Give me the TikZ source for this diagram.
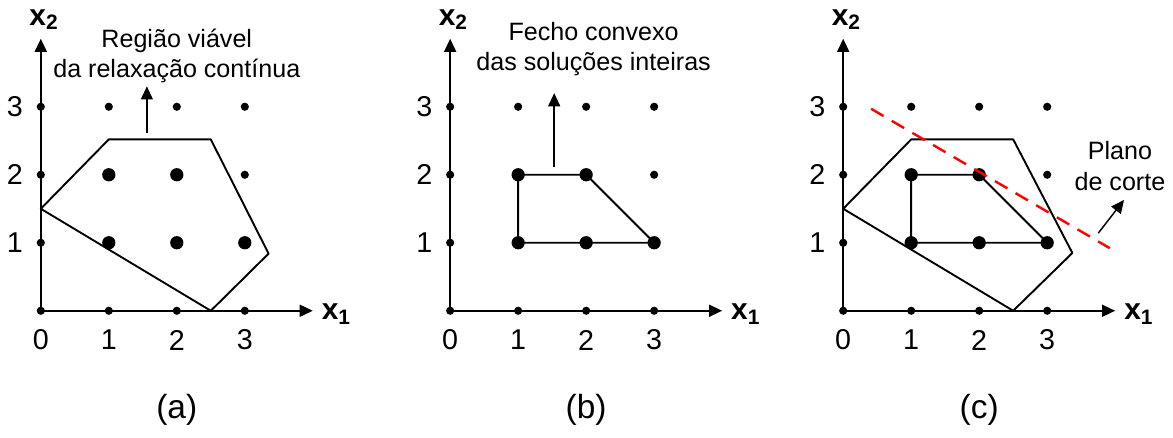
\documentclass[tikz,border=0pt]{standalone}
\usepackage{fontspec}
\setmainfont{Liberation Sans}
\usetikzlibrary{arrows.meta}
\begin{document}
\begin{tikzpicture}[>={Triangle[length=5.5pt,width=5pt]}, line width=0.8pt,
  pt/.style={circle,fill,inner sep=0pt,minimum size=1.2mm},
  bigpt/.style={circle,fill,inner sep=0pt,minimum size=1.95mm},
  txt/.style={align=center,font=\fontsize{10.5}{12.8}\selectfont},
  num/.style={font=\fontsize{12}{14}\selectfont},
  axis/.style={font=\fontsize{12.5}{14}\selectfont\bfseries},
  captxt/.style={font=\fontsize{14}{16}\selectfont},
  cut/.style={red,line width=1pt,dash pattern=on 6pt off 4pt}]
\useasboundingbox (-0.6,-1.87) rectangle (16.65,4.57);

% (a) regiao viavel
\begin{scope}
\node(aO) at (0,0){};
\node(aX) at (4,0){};
\node(aY) at (0,4){};
\draw[->](aO.center)--(aX.center);
\draw[->](aO.center)--(aY.center);
\node[axis](ax1) at (4.35,-0.05){x$_\mathbf{1}$};
\node[axis](ax2) at (0.05,4.28){x$_\mathbf{2}$};
\node[num](a0) at (0,-0.43){0};
\foreach \i in {1,2,3}{
  \node[num](ah\i) at (\i,-0.43){\i};
  \node[num](av\i) at (-0.38,\i){\i};
}
\coordinate(p1) at (0,1.5);
\coordinate(p2) at (1,2.52);
\coordinate(p3) at (2.5,2.52);
\coordinate(p4) at (3.35,0.84);
\coordinate(p5) at (2.5,0);
\draw[line join=round](p1)--(p2)--(p3)--(p4)--(p5)--cycle;
\foreach \x/\y in {0/0,1/0,2/0,3/0,0/1,0/2,0/3,1/3,2/3,3/3,3/2}
  \node[pt] at (\x,\y){};
\foreach \x/\y in {1/1,2/1,3/1,1/2,2/2}
  \node[bigpt] at (\x,\y){};
\node[txt](at) at (2,3.75){Região viável\\da relaxação contínua};
\coordinate(aa) at (1.56,2.62);
\coordinate(ab) at (1.56,3.3);
\draw[->,line width=0.6pt](aa)--(ab);
\node[captxt](ca) at (2,-1.46){(a)};
\end{scope}

% (b) fecho convexo
\begin{scope}[xshift=6.02cm]
\node(bO) at (0,0){};
\node(bX) at (4,0){};
\node(bY) at (0,4){};
\draw[->](bO.center)--(bX.center);
\draw[->](bO.center)--(bY.center);
\node[axis](bx1) at (4.35,-0.05){x$_\mathbf{1}$};
\node[axis](bx2) at (0.05,4.28){x$_\mathbf{2}$};
\node[num](b0) at (0,-0.43){0};
\foreach \i in {1,2,3}{
  \node[num](bh\i) at (\i,-0.43){\i};
  \node[num](bv\i) at (-0.38,\i){\i};
}
\foreach \x/\y in {0/0,1/0,2/0,3/0,0/1,0/2,0/3,1/3,2/3,3/3,3/2}
  \node[pt] at (\x,\y){};
\node[bigpt](q11) at (1,1){};
\node[bigpt](q21) at (2,1){};
\node[bigpt](q31) at (3,1){};
\node[bigpt](q12) at (1,2){};
\node[bigpt](q22) at (2,2){};
\draw(q11.center)--(q21.center)--(q31.center)--(q22.center)--(q12.center)--(q11.center);
\node[txt](bt) at (2.11,3.85){Fecho convexo\\das soluções inteiras};
\coordinate(ba) at (1.53,2.11);
\coordinate(bb) at (1.53,3.2);
\draw[->,line width=0.6pt](ba)--(bb);
\node[captxt](cb) at (2,-1.46){(b)};
\end{scope}

% (c) plano de corte
\begin{scope}[xshift=11.8cm]
\node(cO) at (0,0){};
\node(cX) at (4,0){};
\node(cY) at (0,4){};
\draw[->](cO.center)--(cX.center);
\draw[->](cO.center)--(cY.center);
\node[axis](cx1) at (4.35,-0.05){x$_\mathbf{1}$};
\node[axis](cx2) at (0.05,4.28){x$_\mathbf{2}$};
\node[num](c0) at (0,-0.43){0};
\foreach \i in {1,2,3}{
  \node[num](ch\i) at (\i,-0.43){\i};
  \node[num](cv\i) at (-0.38,\i){\i};
}
\coordinate(r1) at (0,1.5);
\coordinate(r2) at (1,2.52);
\coordinate(r3) at (2.5,2.52);
\coordinate(r4) at (3.37,0.85);
\coordinate(r5) at (2.5,0);
\draw[line join=round](r1)--(r2)--(r3)--(r4)--(r5)--cycle;
\foreach \x/\y in {0/0,1/0,2/0,3/0,0/1,0/2,0/3,1/3,2/3,3/3,3/2}
  \node[pt] at (\x,\y){};
\node[bigpt](s11) at (1,1){};
\node[bigpt](s21) at (2,1){};
\node[bigpt](s31) at (3,1){};
\node[bigpt](s12) at (1,2){};
\node[bigpt](s22) at (2,2){};
\draw(s11.center)--(s21.center)--(s31.center)--(s22.center)--(s12.center)--(s11.center);
\coordinate(ka) at (0.41,2.97);
\coordinate(kb) at (3.92,0.92);
\draw[cut](ka)--(kb);
\node[txt](ct) at (4.07,2.13){Plano\\de corte};
\coordinate(ca1) at (3.75,1.14);
\coordinate(cb1) at (4.13,1.63);
\draw[->,line width=0.6pt](ca1)--(cb1);
\node[captxt](cc) at (2,-1.46){(c)};
\end{scope}

\end{tikzpicture}
\end{document}
